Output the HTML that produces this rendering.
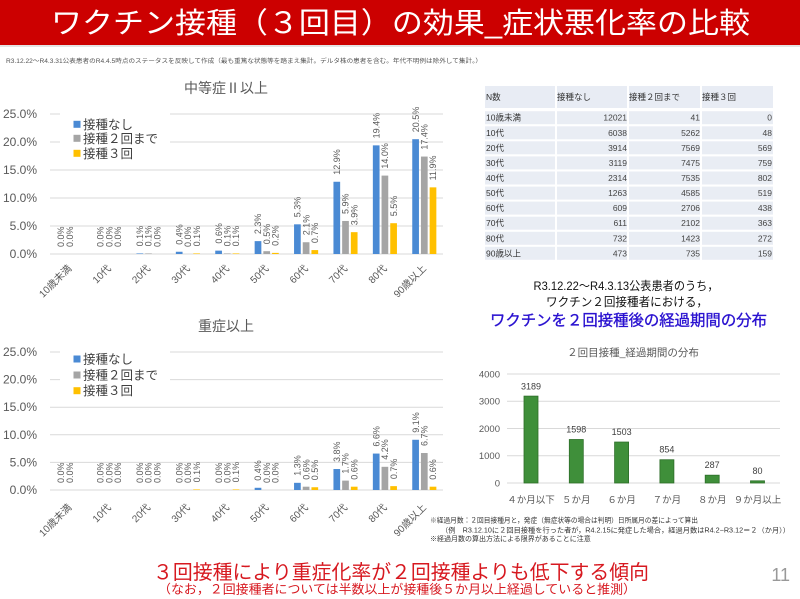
<!DOCTYPE html>
<html lang="ja">
<head>
<meta charset="utf-8">
<style>
html,body{margin:0;padding:0;background:#fff;}
body{width:800px;height:599px;overflow:hidden;}
svg{display:block;font-family:"Liberation Sans","Noto Sans CJK JP",sans-serif;}
.lb{font-size:9px;fill:#595959;}
.ax{font-size:12px;fill:#595959;}
.xl{font-size:10px;fill:#595959;}
.lg{font-size:12.5px;fill:#404040;}
.tb{font-size:8.5px;fill:#333;}
.tn{font-size:8.5px;fill:#444;}
.g{stroke:#d9d9d9;stroke-width:1;}
</style>
</head>
<body>
<svg width="800" height="599" viewBox="0 0 800 599" xmlns="http://www.w3.org/2000/svg">
<!-- title bar -->
<rect x="0" y="0" width="800" height="45" fill="#cc0000"/>
<rect x="0" y="45" width="800" height="2" fill="#e4e4e4"/>
<text x="51" y="33" font-size="29" fill="#fff" textLength="699" lengthAdjust="spacingAndGlyphs">ワクチン接種（３回目）の効果_症状悪化率の比較</text>
<text x="6" y="63" font-size="6" fill="#555" textLength="476" lengthAdjust="spacingAndGlyphs">R3.12.22〜R4.3.31公表患者のR4.4.5時点のステータスを反映して作成（最も重篤な状態等を踏まえ集計。デルタ株の患者を含む。年代不明例は除外して集計。）</text>

<!-- ===== TOP CHART ===== -->
<text x="226" y="93" font-size="14" fill="#595959" text-anchor="middle">中等症Ⅱ以上</text>
<g class="g">
<line x1="50" y1="114" x2="443" y2="114"/><line x1="50" y1="142" x2="443" y2="142"/>
<line x1="50" y1="170" x2="443" y2="170"/><line x1="50" y1="198" x2="443" y2="198"/>
<line x1="50" y1="226" x2="443" y2="226"/><line x1="50" y1="254" x2="443" y2="254"/>
</g>
<g class="ax" text-anchor="end">
<text x="37" y="118">25.0%</text><text x="37" y="146">20.0%</text><text x="37" y="174">15.0%</text>
<text x="37" y="202">10.0%</text><text x="37" y="230">5.0%</text><text x="37" y="258">0.0%</text>
</g>
<rect x="60" y="108" width="110" height="56" fill="#fff"/>
<rect x="73.5" y="120.8" width="7" height="7" fill="#4a8ad4"/>
<rect x="73.5" y="134.8" width="7" height="7" fill="#a5a5a5"/>
<rect x="73.5" y="149.8" width="7" height="7" fill="#ffc000"/>
<text class="lg" x="83" y="128.8">接種なし</text>
<text class="lg" x="83" y="142.8">接種２回まで</text>
<text class="lg" x="83" y="157.8">接種３回</text>
<g fill="#4a8ad4">
<rect x="136.45" y="253.44" width="6.7" height="0.56"/><rect x="175.85" y="251.76" width="6.7" height="2.24"/>
<rect x="215.25" y="250.64" width="6.7" height="3.36"/><rect x="254.65" y="241.12" width="6.7" height="12.88"/>
<rect x="294.05" y="224.32" width="6.7" height="29.68"/><rect x="333.45" y="181.76" width="6.7" height="72.24"/>
<rect x="372.85" y="145.36" width="6.7" height="108.64"/><rect x="412.25" y="139.2" width="6.7" height="114.8"/>
</g>
<g fill="#a5a5a5">
<rect x="145.15" y="253.44" width="6.7" height="0.56"/><rect x="223.95" y="253.44" width="6.7" height="0.56"/>
<rect x="263.35" y="251.2" width="6.7" height="2.8"/><rect x="302.75" y="242.24" width="6.7" height="11.76"/>
<rect x="342.15" y="220.96" width="6.7" height="33.04"/><rect x="381.55" y="175.6" width="6.7" height="78.4"/>
<rect x="420.95" y="156.56" width="6.7" height="97.44"/>
</g>
<g fill="#ffc000">
<rect x="193.25" y="253.44" width="6.7" height="0.56"/><rect x="232.65" y="253.44" width="6.7" height="0.56"/>
<rect x="272.05" y="252.88" width="6.7" height="1.12"/><rect x="311.45" y="250.08" width="6.7" height="3.92"/>
<rect x="350.85" y="232.16" width="6.7" height="21.84"/><rect x="390.25" y="223.2" width="6.7" height="30.8"/>
<rect x="429.65" y="187.36" width="6.7" height="66.64"/>
</g>
<g class="lb">
<text transform="translate(64.2,247) rotate(-90)">0.0%</text>
<text transform="translate(103.6,247) rotate(-90)">0.0%</text>
<text transform="translate(143.0,246.4) rotate(-90)">0.1%</text>
<text transform="translate(182.4,244.8) rotate(-90)">0.4%</text>
<text transform="translate(221.8,243.6) rotate(-90)">0.6%</text>
<text transform="translate(261.2,234.1) rotate(-90)">2.3%</text>
<text transform="translate(300.6,217.3) rotate(-90)">5.3%</text>
<text transform="translate(340.0,174.8) rotate(-90)">12.9%</text>
<text transform="translate(379.4,138.4) rotate(-90)">19.4%</text>
<text transform="translate(418.8,132.2) rotate(-90)">20.5%</text>
<text transform="translate(72.9,247) rotate(-90)">0.0%</text>
<text transform="translate(112.3,247) rotate(-90)">0.0%</text>
<text transform="translate(151.7,246.4) rotate(-90)">0.1%</text>
<text transform="translate(191.1,247) rotate(-90)">0.0%</text>
<text transform="translate(230.5,246.4) rotate(-90)">0.1%</text>
<text transform="translate(269.9,244.2) rotate(-90)">0.5%</text>
<text transform="translate(309.3,235.2) rotate(-90)">2.1%</text>
<text transform="translate(348.7,214) rotate(-90)">5.9%</text>
<text transform="translate(388.1,168.6) rotate(-90)">14.0%</text>
<text transform="translate(427.5,149.6) rotate(-90)">17.4%</text>
<text transform="translate(121.0,247) rotate(-90)">0.0%</text>
<text transform="translate(160.4,247) rotate(-90)">0.0%</text>
<text transform="translate(199.8,246.4) rotate(-90)">0.1%</text>
<text transform="translate(239.2,246.4) rotate(-90)">0.1%</text>
<text transform="translate(278.6,245.9) rotate(-90)">0.2%</text>
<text transform="translate(318.0,243.1) rotate(-90)">0.7%</text>
<text transform="translate(357.4,225.2) rotate(-90)">3.9%</text>
<text transform="translate(396.8,216.2) rotate(-90)">5.5%</text>
<text transform="translate(436.2,180.4) rotate(-90)">11.9%</text>
</g>
<g class="xl" text-anchor="end">
<text transform="translate(72.2,269) rotate(-45)">10歳未満</text>
<text transform="translate(111.6,269) rotate(-45)">10代</text>
<text transform="translate(151.0,269) rotate(-45)">20代</text>
<text transform="translate(190.4,269) rotate(-45)">30代</text>
<text transform="translate(229.8,269) rotate(-45)">40代</text>
<text transform="translate(269.2,269) rotate(-45)">50代</text>
<text transform="translate(308.6,269) rotate(-45)">60代</text>
<text transform="translate(348.0,269) rotate(-45)">70代</text>
<text transform="translate(387.4,269) rotate(-45)">80代</text>
<text transform="translate(426.8,269) rotate(-45)">90歳以上</text>
</g>

<!-- ===== BOTTOM CHART ===== -->
<text x="226" y="331" font-size="14" fill="#595959" text-anchor="middle">重症以上</text>
<g class="g">
<line x1="50" y1="352" x2="443" y2="352"/><line x1="50" y1="379.6" x2="443" y2="379.6"/>
<line x1="50" y1="407.2" x2="443" y2="407.2"/><line x1="50" y1="434.8" x2="443" y2="434.8"/>
<line x1="50" y1="462.4" x2="443" y2="462.4"/><line x1="50" y1="490" x2="443" y2="490"/>
</g>
<g class="ax" text-anchor="end">
<text x="37" y="356">25.0%</text><text x="37" y="383.6">20.0%</text><text x="37" y="411.2">15.0%</text>
<text x="37" y="438.8">10.0%</text><text x="37" y="466.4">5.0%</text><text x="37" y="494">0.0%</text>
</g>
<rect x="60" y="344" width="110" height="56" fill="#fff"/>
<rect x="73.5" y="355.5" width="7" height="7" fill="#4a8ad4"/>
<rect x="73.5" y="371.5" width="7" height="7" fill="#a5a5a5"/>
<rect x="73.5" y="387.2" width="7" height="7" fill="#ffc000"/>
<text class="lg" x="83" y="363.5">接種なし</text>
<text class="lg" x="83" y="379.5">接種２回まで</text>
<text class="lg" x="83" y="395.2">接種３回</text>
<g fill="#4a8ad4">
<rect x="254.65" y="487.79" width="6.7" height="2.21"/><rect x="294.05" y="482.82" width="6.7" height="7.18"/>
<rect x="333.45" y="469.02" width="6.7" height="20.98"/><rect x="372.85" y="453.57" width="6.7" height="36.43"/>
<rect x="412.25" y="439.77" width="6.7" height="50.23"/>
</g>
<g fill="#a5a5a5">
<rect x="302.75" y="486.69" width="6.7" height="3.31"/><rect x="342.15" y="480.62" width="6.7" height="9.38"/>
<rect x="381.55" y="466.82" width="6.7" height="23.18"/><rect x="420.95" y="453.02" width="6.7" height="36.98"/>
</g>
<g fill="#ffc000">
<rect x="193.25" y="489.45" width="6.7" height="0.55"/><rect x="232.65" y="489.45" width="6.7" height="0.55"/>
<rect x="311.45" y="487.24" width="6.7" height="2.76"/><rect x="350.85" y="486.69" width="6.7" height="3.31"/>
<rect x="390.25" y="486.14" width="6.7" height="3.86"/><rect x="429.65" y="486.69" width="6.7" height="3.31"/>
</g>
<g class="lb">
<text transform="translate(64.2,483) rotate(-90)">0.0%</text>
<text transform="translate(103.6,483) rotate(-90)">0.0%</text>
<text transform="translate(143.0,483) rotate(-90)">0.0%</text>
<text transform="translate(182.4,483) rotate(-90)">0.0%</text>
<text transform="translate(221.8,483) rotate(-90)">0.0%</text>
<text transform="translate(261.2,480.8) rotate(-90)">0.4%</text>
<text transform="translate(300.6,475.8) rotate(-90)">1.3%</text>
<text transform="translate(340.0,462) rotate(-90)">3.8%</text>
<text transform="translate(379.4,446.6) rotate(-90)">6.6%</text>
<text transform="translate(418.8,432.8) rotate(-90)">9.1%</text>
<text transform="translate(72.9,483) rotate(-90)">0.0%</text>
<text transform="translate(112.3,483) rotate(-90)">0.0%</text>
<text transform="translate(151.7,483) rotate(-90)">0.0%</text>
<text transform="translate(191.1,483) rotate(-90)">0.0%</text>
<text transform="translate(230.5,483) rotate(-90)">0.0%</text>
<text transform="translate(269.9,483) rotate(-90)">0.0%</text>
<text transform="translate(309.3,479.7) rotate(-90)">0.6%</text>
<text transform="translate(348.7,473.6) rotate(-90)">1.7%</text>
<text transform="translate(388.1,459.8) rotate(-90)">4.2%</text>
<text transform="translate(427.5,446) rotate(-90)">6.7%</text>
<text transform="translate(121.0,483) rotate(-90)">0.0%</text>
<text transform="translate(160.4,483) rotate(-90)">0.0%</text>
<text transform="translate(199.8,482.4) rotate(-90)">0.1%</text>
<text transform="translate(239.2,482.4) rotate(-90)">0.1%</text>
<text transform="translate(278.6,483) rotate(-90)">0.0%</text>
<text transform="translate(318.0,480.2) rotate(-90)">0.5%</text>
<text transform="translate(357.4,479.7) rotate(-90)">0.6%</text>
<text transform="translate(396.8,479.1) rotate(-90)">0.7%</text>
<text transform="translate(436.2,479.7) rotate(-90)">0.6%</text>
</g>
<g class="xl" text-anchor="end">
<text transform="translate(72.2,508) rotate(-45)">10歳未満</text>
<text transform="translate(111.6,508) rotate(-45)">10代</text>
<text transform="translate(151.0,508) rotate(-45)">20代</text>
<text transform="translate(190.4,508) rotate(-45)">30代</text>
<text transform="translate(229.8,508) rotate(-45)">40代</text>
<text transform="translate(269.2,508) rotate(-45)">50代</text>
<text transform="translate(308.6,508) rotate(-45)">60代</text>
<text transform="translate(348.0,508) rotate(-45)">70代</text>
<text transform="translate(387.4,508) rotate(-45)">80代</text>
<text transform="translate(426.8,508) rotate(-45)">90歳以上</text>
</g>

<!-- ===== TABLE ===== -->
<g fill="#e8ecf4">
<rect x="485" y="86" width="70" height="22"/><rect x="557" y="86" width="70" height="22"/>
<rect x="629" y="86" width="71" height="22"/><rect x="702" y="86" width="71" height="22"/>
</g>
<g fill="#e9edf4">
<rect x="485" y="111.2" width="288" height="13"/>
<rect x="485" y="126.3" width="288" height="13"/>
<rect x="485" y="141.3" width="288" height="13"/>
<rect x="485" y="156.4" width="288" height="13"/>
<rect x="485" y="171.5" width="288" height="13"/>
<rect x="485" y="186.6" width="288" height="13"/>
<rect x="485" y="201.6" width="288" height="13"/>
<rect x="485" y="216.7" width="288" height="13"/>
<rect x="485" y="231.8" width="288" height="13"/>
<rect x="485" y="246.8" width="288" height="13"/>
</g>
<g fill="#fff">
<rect x="555" y="86" width="2" height="175"/><rect x="627" y="86" width="2" height="175"/><rect x="700" y="86" width="2" height="175"/>
</g>
<g class="tb">
<text x="486" y="100">N数</text><text x="557" y="100">接種なし</text><text x="629" y="100">接種２回まで</text><text x="702" y="100">接種３回</text>
<text x="486" y="120.7">10歳未満</text>
<text x="486" y="135.8">10代</text>
<text x="486" y="150.8">20代</text>
<text x="486" y="165.9">30代</text>
<text x="486" y="181.0">40代</text>
<text x="486" y="196.1">50代</text>
<text x="486" y="211.1">60代</text>
<text x="486" y="226.2">70代</text>
<text x="486" y="241.3">80代</text>
<text x="486" y="256.3">90歳以上</text>
</g>
<g class="tn" text-anchor="end">
<text x="627" y="120.7">12021</text><text x="700" y="120.7">41</text><text x="772" y="120.7">0</text>
<text x="627" y="135.8">6038</text><text x="700" y="135.8">5262</text><text x="772" y="135.8">48</text>
<text x="627" y="150.8">3914</text><text x="700" y="150.8">7569</text><text x="772" y="150.8">569</text>
<text x="627" y="165.9">3119</text><text x="700" y="165.9">7475</text><text x="772" y="165.9">759</text>
<text x="627" y="181.0">2314</text><text x="700" y="181.0">7535</text><text x="772" y="181.0">802</text>
<text x="627" y="196.1">1263</text><text x="700" y="196.1">4585</text><text x="772" y="196.1">519</text>
<text x="627" y="211.1">609</text><text x="700" y="211.1">2706</text><text x="772" y="211.1">438</text>
<text x="627" y="226.2">611</text><text x="700" y="226.2">2102</text><text x="772" y="226.2">363</text>
<text x="627" y="241.3">732</text><text x="700" y="241.3">1423</text><text x="772" y="241.3">272</text>
<text x="627" y="256.3">473</text><text x="700" y="256.3">735</text><text x="772" y="256.3">159</text>
</g>

<!-- ===== RIGHT CHART ===== -->
<text x="626" y="290" font-size="12" fill="#111" text-anchor="middle" textLength="185" lengthAdjust="spacingAndGlyphs">R3.12.22〜R4.3.13公表患者のうち，</text>
<text x="627" y="306" font-size="12" fill="#111" text-anchor="middle" textLength="162" lengthAdjust="spacingAndGlyphs">ワクチン２回接種者における，</text>
<text x="628.5" y="325.5" font-size="15.5" fill="#2a12d0" stroke="#2a12d0" stroke-width="0.35" text-anchor="middle" textLength="277" lengthAdjust="spacingAndGlyphs">ワクチンを２回接種後の経過期間の分布</text>
<text x="633" y="356" font-size="10.5" fill="#595959" text-anchor="middle">２回目接種_経過期間の分布</text>
<g class="g">
<line x1="507" y1="374" x2="780" y2="374"/><line x1="507" y1="401.25" x2="780" y2="401.25"/>
<line x1="507" y1="428.5" x2="780" y2="428.5"/><line x1="507" y1="455.75" x2="780" y2="455.75"/>
<line x1="507" y1="483" x2="780" y2="483"/>
</g>
<g font-size="9.5" fill="#595959" text-anchor="end">
<text x="500" y="377.5">4000</text><text x="500" y="404.7">3000</text><text x="500" y="432">2000</text>
<text x="500" y="459.2">1000</text><text x="500" y="486.5">0</text>
</g>
<g fill="#3f8f3a" stroke="#2d6e29" stroke-width="0.8">
<rect x="524" y="396.1" width="14" height="86.9"/>
<rect x="569.3" y="439.5" width="14" height="43.5"/>
<rect x="614.6" y="442.04" width="14" height="40.96"/>
<rect x="659.9" y="459.73" width="14" height="23.27"/>
<rect x="705.2" y="475.18" width="14" height="7.82"/>
<rect x="750.5" y="480.82" width="14" height="2.18"/>
</g>
<g font-size="9" fill="#404040" text-anchor="middle">
<text x="531" y="389.5">3189</text>
<text x="576.3" y="432.5">1598</text>
<text x="621.6" y="435">1503</text>
<text x="666.9" y="452.7">854</text>
<text x="712.2" y="468.2">287</text>
<text x="757.5" y="473.8">80</text>
</g>
<g font-size="9.5" fill="#595959" text-anchor="middle">
<text x="531" y="503">４か月以下</text>
<text x="576.3" y="503">５か月</text>
<text x="621.6" y="503">６か月</text>
<text x="666.9" y="503">７か月</text>
<text x="712.2" y="503">８か月</text>
<text x="757.5" y="503">９か月以上</text>
</g>

<!-- notes -->
<g font-size="7" fill="#333">
<text x="430" y="522.5" textLength="268" lengthAdjust="spacingAndGlyphs">※経過月数：２回目接種月と，発症（無症状等の場合は判明）日所属月の差によって算出</text>
<text x="441" y="532.5" textLength="349" lengthAdjust="spacingAndGlyphs">（例　R3.12.10に２回目接種を行った者が，R4.2.15に発症した場合，経過月数はR4.2−R3.12＝２（か月））</text>
<text x="430" y="541">※経過月数の算出方法による限界があることに注意</text>
</g>

<!-- footer -->
<text x="153" y="579" font-size="20" fill="#d71920" textLength="496" lengthAdjust="spacingAndGlyphs">３回接種により重症化率が２回接種よりも低下する傾向</text>
<text x="158" y="593.5" font-size="12.5" fill="#d71920" textLength="478" lengthAdjust="spacingAndGlyphs">（なお，２回接種者については半数以上が接種後５か月以上経過していると推測）</text>
<text x="790" y="581" font-size="18" fill="#999" text-anchor="end">11</text>
</svg>
</body>
</html>
